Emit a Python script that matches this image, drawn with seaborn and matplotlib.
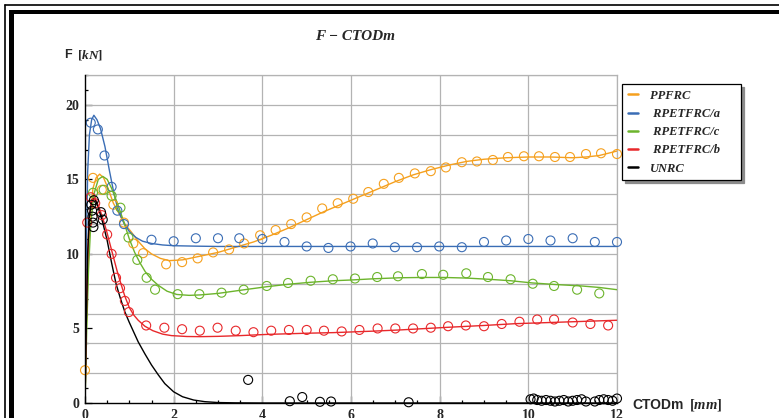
import matplotlib
matplotlib.use("Agg")
import matplotlib.pyplot as plt
from matplotlib.lines import Line2D
from matplotlib.patches import Rectangle
from matplotlib.ticker import MultipleLocator
import seaborn as sns

# ---- measured points (CTODm [mm], F [kN]) ----
pp_x = [0.0, 0.18, 0.38, 0.64, 0.88, 1.09, 1.31, 1.83, 2.19, 2.54, 2.89, 3.25, 3.59, 3.95, 4.30, 4.65,
        5.00, 5.35, 5.70, 6.05, 6.39, 6.74, 7.08, 7.44, 7.80, 8.14, 8.50, 8.84, 9.20, 9.54, 9.90, 10.24,
        10.60, 10.94, 11.30, 11.64, 12.0]
pp_y = [2.2, 15.1, 14.3, 13.3, 12.1, 10.7, 10.05, 9.3, 9.45, 9.7, 10.1, 10.3, 10.7, 11.25, 11.6, 12.0,
        12.45, 13.05, 13.4, 13.7, 14.15, 14.7, 15.1, 15.4, 15.55, 15.8, 16.15, 16.2, 16.3, 16.5, 16.55, 16.55,
        16.5, 16.5, 16.7, 16.75, 16.7]

a_x = [0.13, 0.29, 0.44, 0.60, 0.73, 0.88, 1.50, 2.00, 2.50, 3.00, 3.48, 4.00, 4.50, 5.00, 5.49, 5.99,
       6.49, 6.99, 7.49, 7.99, 8.50, 9.00, 9.50, 10.00, 10.50, 11.00, 11.50, 12.0]
a_y = [18.8, 18.35, 16.6, 14.5, 12.9, 12.0, 10.95, 10.85, 11.05, 11.05, 11.05, 11.0, 10.8, 10.5, 10.4, 10.5,
       10.7, 10.45, 10.45, 10.5, 10.45, 10.8, 10.9, 11.0, 10.9, 11.05, 10.8, 10.8]

c_x = [0.18, 0.42, 0.60, 0.80, 0.98, 1.18, 1.39, 1.58, 2.09, 2.58, 3.08, 3.58, 4.10, 4.58, 5.09, 5.59,
       6.09, 6.59, 7.06, 7.60, 8.08, 8.60, 9.09, 9.60, 10.10, 10.58, 11.10, 11.60]
c_y = [14.1, 14.3, 13.9, 13.1, 11.1, 9.6, 8.4, 7.6, 7.3, 7.3, 7.4, 7.6, 7.85, 8.05, 8.2, 8.3,
       8.35, 8.45, 8.5, 8.65, 8.6, 8.7, 8.45, 8.3, 8.0, 7.85, 7.6, 7.35]

b_x = [0.05, 0.13, 0.23, 0.38, 0.50, 0.60, 0.70, 0.79, 0.90, 0.99, 1.38, 1.79, 2.19, 2.59, 2.99, 3.40,
       3.80, 4.20, 4.60, 5.00, 5.39, 5.79, 6.19, 6.60, 7.00, 7.40, 7.80, 8.19, 8.59, 9.00, 9.40, 9.80,
       10.20, 10.58, 11.00, 11.40, 11.80]
b_y = [12.1, 13.8, 13.4, 12.6, 11.3, 10.0, 8.4, 7.7, 6.85, 6.1, 5.2, 5.05, 4.95, 4.85, 5.05, 4.85,
       4.75, 4.85, 4.9, 4.9, 4.85, 4.8, 4.9, 5.0, 5.0, 5.0, 5.05, 5.15, 5.2, 5.15, 5.3, 5.45,
       5.6, 5.6, 5.4, 5.3, 5.2]

u_x = [0.14, 0.16, 0.17, 0.18, 0.19, 0.20, 0.36, 0.40, 3.68, 4.62, 4.90, 5.30, 5.55, 7.30,
       10.05, 10.12, 10.20, 10.30, 10.40, 10.50, 10.60, 10.70, 10.80, 10.90, 11.00, 11.10, 11.20,
       11.30, 11.50, 11.60, 11.70, 11.80, 11.90, 12.00]
u_y = [13.3, 12.9, 12.5, 12.1, 11.8, 13.6, 12.8, 12.3, 1.55, 0.12, 0.4, 0.08, 0.1, 0.05,
       0.25, 0.3, 0.2, 0.15, 0.2, 0.15, 0.1, 0.15, 0.2, 0.1, 0.15, 0.2, 0.25,
       0.1, 0.1, 0.2, 0.25, 0.2, 0.15, 0.3]

# ---- fitted curves ----
pp_fx = [0, 0.03, 0.07, 0.12, 0.18, 0.25, 0.33, 0.42, 0.52, 0.64, 0.76, 0.9, 1.05, 1.2, 1.35, 1.5, 1.7,
         1.9, 2.2, 2.6, 3.0, 3.4, 3.8, 4.2, 4.6, 5.0, 5.4, 5.8, 6.2, 6.6, 7.0, 7.4, 7.8, 8.2, 8.6, 9.0,
         9.5, 10.0, 10.5, 11.0, 11.3, 11.6, 12.0]
pp_fy = [0, 5.0, 9.5, 12.6, 14.4, 15.1, 15.35, 15.1, 14.4, 13.4, 12.75, 12.0, 11.45, 10.85, 10.35, 10.0, 9.7,
         9.55, 9.6, 9.85, 10.1, 10.45, 10.8, 11.25, 11.75, 12.3, 12.85, 13.35, 13.85, 14.35, 14.85, 15.3,
         15.65, 15.95, 16.2, 16.35, 16.45, 16.5, 16.5, 16.45, 16.5, 16.6, 16.9]

a_fx = [0, 0.03, 0.06, 0.1, 0.15, 0.2, 0.27, 0.35, 0.45, 0.55, 0.65, 0.75, 0.88, 1.0, 1.15, 1.3, 1.5,
        1.75, 2.0, 2.5, 3.0, 4.0, 6.0, 8.0, 10.0, 12.0]
a_fy = [0, 10.0, 15.5, 18.0, 19.0, 19.3, 19.0, 18.4, 17.2, 15.6, 14.1, 12.9, 12.05, 11.5, 11.1, 10.85, 10.7,
        10.6, 10.55, 10.52, 10.5, 10.5, 10.5, 10.5, 10.5, 10.5]

c_fx = [0, 0.04, 0.08, 0.13, 0.2, 0.3, 0.4, 0.5, 0.6, 0.73, 0.87, 1.0, 1.12, 1.24, 1.36, 1.5, 1.65, 1.85,
        2.07, 2.35, 2.6, 3.0, 3.6, 4.1, 4.6, 5.1, 5.6, 6.0, 6.5, 7.1, 7.6, 8.1, 8.6, 9.1, 9.6, 10.1, 10.6,
        11.2, 11.6, 12.0]
c_fy = [0, 5.0, 9.0, 12.0, 14.0, 15.0, 15.2, 15.0, 14.4, 13.4, 12.2, 11.0, 10.1, 9.4, 8.8, 8.3, 7.9, 7.5,
        7.28, 7.22, 7.25, 7.35, 7.6, 7.8, 7.97, 8.1, 8.2, 8.25, 8.33, 8.4, 8.42, 8.42, 8.38, 8.3, 8.2, 8.05,
        7.95, 7.85, 7.75, 7.6]

b_fx = [0, 0.03, 0.06, 0.1, 0.15, 0.2, 0.25, 0.32, 0.41, 0.49, 0.56, 0.64, 0.72, 0.81, 0.9, 1.0, 1.1, 1.2,
        1.35, 1.53, 1.75, 1.95, 2.3, 2.6, 3.0, 3.5, 4.1, 5.0, 5.6, 6.5, 7.1, 8.2, 9.0, 9.7, 10.5, 11.2, 12.0]
b_fy = [0, 5.5, 10.0, 12.6, 13.6, 13.8, 13.6, 13.1, 12.3, 11.5, 10.7, 9.8, 8.9, 8.0, 7.15, 6.4, 5.9, 5.55,
        5.15, 4.85, 4.62, 4.52, 4.46, 4.45, 4.47, 4.52, 4.6, 4.68, 4.72, 4.82, 4.9, 5.08, 5.2, 5.32, 5.4,
        5.47, 5.55]

u_fx = [0, 0.03, 0.06, 0.1, 0.15, 0.2, 0.25, 0.32, 0.4, 0.5, 0.6, 0.7, 0.8, 0.9, 1.0, 1.1, 1.2, 1.35, 1.5,
        1.65, 1.8, 2.0, 2.2, 2.45, 2.7, 3.0, 3.4, 4.0, 12.0]
u_fy = [0, 5.5, 10.0, 12.6, 13.5, 13.7, 13.5, 12.9, 12.1, 10.9, 9.4, 8.0, 7.0, 6.1, 5.4, 4.75, 4.1, 3.3,
        2.55, 1.9, 1.3, 0.75, 0.42, 0.2, 0.09, 0.03, 0.01, 0.0, 0.0]

labels = ["PPFRC", " RPETFRC/a", " RPETFRC/c", " RPETFRC/b", "UNRC"]
colors = ["#F5A01E", "#3A6DB5", "#6CB42C", "#E8282B", "#000000"]

points = [(pp_x, pp_y), (a_x, a_y), (c_x, c_y), (b_x, b_y), (u_x, u_y)]
curves = [(pp_fx, pp_fy), (a_fx, a_fy), (c_fx, c_fy), (b_fx, b_fy), (u_fx, u_fy)]

sns.set_theme(style="white")
plt.rcParams["font.family"] = ["Liberation Serif", "DejaVu Serif"]
plt.rcParams["mathtext.fontset"] = "custom"
plt.rcParams["mathtext.it"] = "Liberation Serif:italic:bold"
plt.rcParams["mathtext.rm"] = "Liberation Serif:bold"

W, H = 779, 418
fig = plt.figure(figsize=(W / 100, H / 100), dpi=100)
fig.patch.set_facecolor("white")
ax = fig.add_axes([85 / W, (H - 403) / H, (617 - 85) / W, (403 - 75) / H])
ax.set_facecolor("white")

for (fx, fy), c in zip(curves, colors):
    sns.lineplot(x=fx, y=fy, color=c, lw=1.0, ax=ax, estimator=None, sort=False, zorder=3)
for (px, py), c in zip(points, colors):
    sns.scatterplot(x=px, y=py, ax=ax, marker="o", s=42, color=c, facecolor="none",
                    edgecolor=c, linewidth=0.8, zorder=4, clip_on=False)

ax.set_xlim(0, 12)
ax.set_ylim(0, 22)
ax.xaxis.set_major_locator(MultipleLocator(2))
ax.xaxis.set_minor_locator(MultipleLocator(0.5))
ax.yaxis.set_major_locator(MultipleLocator(5))
ax.yaxis.set_minor_locator(MultipleLocator(1))

grid_c = "#b3b3b3"
for gx in range(2, 13, 2):
    ax.axvline(gx, color=grid_c, lw=0.9, zorder=1)
for gy in range(2, 23, 2):
    ax.axhline(gy, color=grid_c, lw=0.9, zorder=1)

for side in ("top", "right"):
    ax.spines[side].set_color(grid_c)
    ax.spines[side].set_linewidth(0.9)
for side in ("left", "bottom"):
    ax.spines[side].set_color("black")
    ax.spines[side].set_linewidth(1.0)
    ax.spines[side].set_zorder(5)

ax.tick_params(which="both", direction="in", color="black", width=0.9,
               top=False, right=False, left=True, bottom=True)
ax.tick_params(which="major", length=5, pad=4)
ax.tick_params(which="minor", length=2.5)
ax.set_xticks([0, 2, 4, 6, 8, 10, 12])
ax.set_yticks([0, 5, 10, 15, 20])
for lab in ax.get_xticklabels() + ax.get_yticklabels():
    lab.set_fontfamily("Liberation Serif")
    lab.set_fontweight("bold")
    lab.set_fontsize(10)
ax.set_xlabel("")
ax.set_ylabel("")

# titles and axis labels
fig.text(0.456, 1 - 37 / H, "F \u2212 CTODm", ha="center", va="center",
         fontfamily="Liberation Serif", fontstyle="italic", fontweight="bold", fontsize=11)
fig.text(64 / W, 1 - 55 / H, "F", ha="left", va="center",
         fontfamily="Liberation Sans", fontweight="bold", fontsize=9)
fig.text(77 / W, 1 - 55 / H, "[$\\mathit{kN}$]", ha="left", va="center",
         fontfamily="Liberation Serif", fontweight="bold", fontsize=9.5)
fig.text(632 / W, 1 - 405 / H, "CTODm", ha="left", va="center",
         fontfamily="Liberation Sans", fontweight="bold", fontsize=10)
fig.text(689 / W, 1 - 405 / H, "[$\\mathit{mm}$]", ha="left", va="center",
         fontfamily="Liberation Serif", fontweight="bold", fontsize=10.5)

# legend
handles = [Line2D([0], [0], color=c, lw=1.8) for c in colors]
leg = fig.legend(handles, labels, loc="upper left",
                 bbox_to_anchor=(622 / W, 1 - 180 / H, (741 - 622) / W, (180 - 84) / H),
                 bbox_transform=fig.transFigure, mode="expand", borderaxespad=0,
                 frameon=True, fancybox=False, shadow={"color": "#8c8c8c", "alpha": 1.0},
                 handlelength=0.8, handletextpad=1.0, borderpad=0.45, labelspacing=0.5,
                 prop={"family": "Liberation Serif", "style": "italic", "weight": "bold", "size": 9})
leg.get_frame().set_edgecolor("black")
leg.get_frame().set_linewidth(0.9)

# page frame around the figure
fig.add_artist(Line2D([5 / W, 5 / W], [0, 1 - 5 / H], color="black", lw=1.2, transform=fig.transFigure))
fig.add_artist(Line2D([5 / W, 1], [1 - 5 / H, 1 - 5 / H], color="black", lw=1.2, transform=fig.transFigure))
fig.add_artist(Rectangle((9 / W, 0), 5 / W, 1 - 10 / H, color="black", transform=fig.transFigure, lw=0))
fig.add_artist(Rectangle((9 / W, 1 - 14 / H), 1, 4 / H, color="black", transform=fig.transFigure, lw=0))

fig.savefig("out.png", dpi=100)
